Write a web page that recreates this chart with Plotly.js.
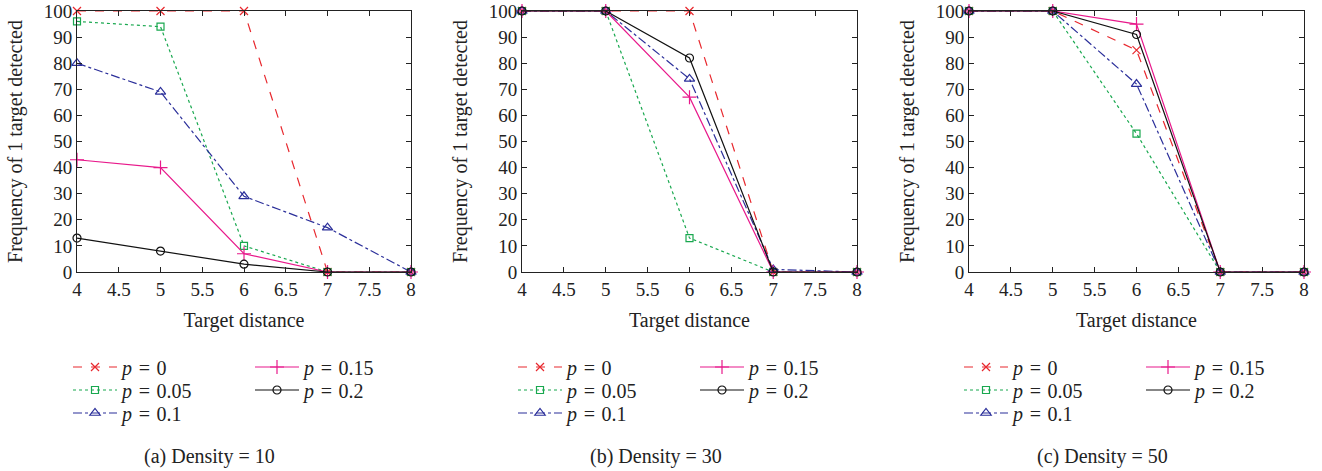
<!DOCTYPE html>
<html>
<head>
<meta charset="utf-8">
<script src="https://cdn.plot.ly/plotly-3.0.1.min.js"></script>
<style>html,body{margin:0;padding:0;background:#fff;}#chart{width:1322px;height:471px;}</style>
</head>
<body>
<div id="chart"></div>
<script>
// ---- data ----
const distance = [4, 5, 6, 7, 8];
const seriesNames = ['<i>p</i>\u2004=\u20040', '<i>p</i>\u2004=\u20040.05', '<i>p</i>\u2004=\u20040.1', '<i>p</i>\u2004=\u20040.15', '<i>p</i>\u2004=\u20040.2'];
const panelCaptions = ['(a) Density = 10', '(b) Density = 30', '(c) Density = 50'];

// Density = 10
const d10_p000 = [100, 100, 100, 0, 0];
const d10_p005 = [96, 94, 10, 0, 0];
const d10_p010 = [80, 69, 29, 17, 0];
const d10_p015 = [43, 40, 7, 0, 0];
const d10_p020 = [13, 8, 3, 0, 0];
// Density = 30
const d30_p000 = [100, 100, 100, 0, 0];
const d30_p005 = [100, 100, 13, 0, 0];
const d30_p010 = [100, 100, 74, 1, 0];
const d30_p015 = [100, 100, 67, 0, 0];
const d30_p020 = [100, 100, 82, 0, 0];
// Density = 50
const d50_p000 = [100, 100, 85, 0, 0];
const d50_p005 = [100, 100, 53, 0, 0];
const d50_p010 = [100, 100, 72, 0, 0];
const d50_p015 = [100, 100, 95, 0, 0];
const d50_p020 = [100, 100, 91, 0, 0];

const xTickVals = [4, 4.5, 5, 5.5, 6, 6.5, 7, 7.5, 8];
const xTickText = ['4', '4.5', '5', '5.5', '6', '6.5', '7', '7.5', '8'];
const yTickVals = [0, 10, 20, 30, 40, 50, 60, 70, 80, 90, 100];

const panels = [
  [d10_p000, d10_p005, d10_p010, d10_p015, d10_p020],
  [d30_p000, d30_p005, d30_p010, d30_p015, d30_p020],
  [d50_p000, d50_p005, d50_p010, d50_p015, d50_p020]
];

// ---- styles ----
const styles = [
  {color: '#e8282e', dash: 'dash', symbol: 'x-thin-open', size: 8},
  {color: '#19a84f', dash: 'dot', symbol: 'square-open', size: 7},
  {color: '#2b2f9a', dash: 'dashdot', symbol: 'triangle-up-open', size: 9},
  {color: '#e8198b', dash: 'solid', symbol: 'cross-thin-open', size: 10},
  {color: '#111111', dash: 'solid', symbol: 'circle-open', size: 8}
];

const W = 1322, H = 471;
const plotX = [[77, 411], [522, 857], [969, 1304]];
const plotTop = 11, plotBottom = 272;
const legendColX = [[68, 250], [513, 695], [959, 1141]];
const legendRowY = [367, 390, 413];
const captionX = [209, 656, 1102];
const serif = 'Liberation Serif';
const ink = '#222';

const traces = [];
const legendDefs = [];
panels.forEach((series, pi) => {
  const ax = pi === 0 ? '' : String(pi + 1);
  series.forEach((vals, si) => {
    const st = styles[si];
    const idx = traces.length;
    const legId = idx === 0 ? 'legend' : 'legend' + (idx + 1);
    const col = si < 3 ? 0 : 1;
    const row = si < 3 ? si : si - 3;
    legendDefs.push({key: legId, x: legendColX[pi][col], y: legendRowY[row]});
    traces.push({
      x: distance, y: vals, type: 'scatter', mode: 'lines+markers',
      name: seriesNames[si],
      xaxis: 'x' + ax, yaxis: 'y' + ax,
      legend: legId,
      line: {color: st.color, dash: st.dash, width: 1.2},
      marker: {symbol: st.symbol, size: st.size, color: st.color, line: {color: st.color, width: 1.2}},
      cliponaxis: false
    });
  });
});

const layout = {
  width: W, height: H,
  margin: {l: 0, r: 0, t: 0, b: 0},
  paper_bgcolor: '#fff', plot_bgcolor: '#fff',
  font: {family: serif, size: 19, color: ink},
  annotations: [],
  showlegend: true
};

for (let pi = 0; pi < 3; pi++) {
  const ax = pi === 0 ? '' : String(pi + 1);
  layout['xaxis' + ax] = {
    domain: [plotX[pi][0] / W, plotX[pi][1] / W],
    anchor: 'y' + ax,
    range: [4, 8], tickvals: xTickVals, ticktext: xTickText,
    ticks: 'inside', ticklen: 5, tickcolor: ink, tickwidth: 1,
    showline: true, linecolor: ink, linewidth: 1, mirror: 'ticks',
    showgrid: false, zeroline: false, ticklabeloverflow: 'allow',
    tickfont: {family: serif, size: 19, color: ink},
    title: {text: 'Target distance', font: {family: serif, size: 20, color: ink}, standoff: 14}
  };
  layout['yaxis' + ax] = {
    domain: [1 - plotBottom / H, 1 - plotTop / H],
    anchor: 'x' + ax,
    range: [0, 100], tickvals: yTickVals,
    ticks: 'inside', ticklen: 5, tickcolor: ink, tickwidth: 1,
    showline: true, linecolor: ink, linewidth: 1, mirror: 'ticks',
    showgrid: false, zeroline: false, ticklabeloverflow: 'allow',
    tickfont: {family: serif, size: 19, color: ink},
    title: {text: 'Frequency of 1 target detected', font: {family: serif, size: 20, color: ink}, standoff: 15}
  };
  layout.annotations.push({
    text: panelCaptions[pi], xref: 'paper', yref: 'paper',
    x: captionX[pi] / W, y: 1 - 456 / H, xanchor: 'center', yanchor: 'middle',
    showarrow: false, font: {family: serif, size: 20, color: ink}
  });
}

legendDefs.forEach(d => {
  layout[d.key] = {
    orientation: 'v', xanchor: 'left', yanchor: 'middle',
    x: d.x / W, y: 1 - d.y / H, bgcolor: 'rgba(0,0,0,0)', borderwidth: 0,
    font: {family: serif, size: 20, color: ink},
    itemwidth: 44, tracegroupgap: 0, itemclick: false, itemdoubleclick: false
  };
});

Plotly.newPlot('chart', traces, layout, {displayModeBar: false, staticPlot: true});
</script>
</body>
</html>
